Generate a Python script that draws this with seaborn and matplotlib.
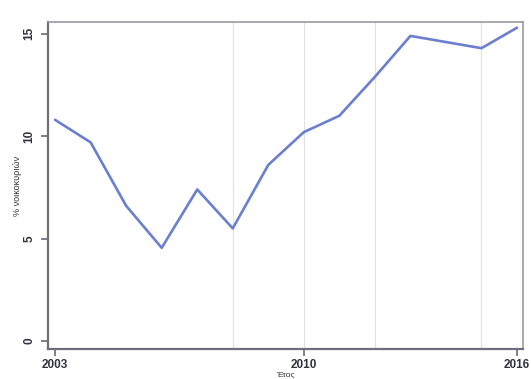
import matplotlib
matplotlib.use("Agg")
import matplotlib.pyplot as plt
import seaborn as sns
import pandas as pd

# Share of households per year (%)
years = [2003, 2004, 2005, 2006, 2007, 2008, 2009, 2010, 2011, 2012, 2013, 2014, 2015, 2016]
share = [10.8, 9.7, 6.6, 4.55, 7.4, 5.5, 8.6, 10.2, 11.0, 12.9, 14.9, 14.6, 14.3, 15.3]
x_ticks = [2003, 2010, 2016]
y_ticks = [0, 5, 10, 15]
grid_years = [2008, 2010, 2012, 2015]

df = pd.DataFrame({"year": years, "share": share})

sns.set_style("white", {"xtick.bottom": True, "ytick.left": True})
plt.rcParams["font.family"] = ["Liberation Sans", "DejaVu Sans"]

fig = plt.figure(figsize=(5.31, 3.79), dpi=100)
ax = fig.add_axes([0.0904, 0.0792, 0.8946, 0.8628])

for gy in grid_years:
    ax.axvline(gy, color="#e3e3e6", lw=0.9, zorder=0)

sns.lineplot(data=df, x="year", y="share", ax=ax, color="#6b7fcf", lw=1.9)

ax.set_xlim(2002.8, 2016.17)
ax.set_ylim(-0.39, 15.58)
ax.set_xticks(x_ticks)
ax.set_yticks(y_ticks)
ax.set_xticklabels([str(t) for t in x_ticks], fontsize=8.5, fontweight="bold", color="#333340")
ax.set_yticklabels([str(t) for t in y_ticks], fontsize=8.5, fontweight="bold",
                   color="#333340", rotation=90, va="center")
ax.tick_params(axis="both", which="major", direction="out", length=5, width=1.2,
               color="#6b6b78", bottom=True, left=True)
ax.tick_params(axis="x", pad=2)
ax.tick_params(axis="y", pad=4)

for side in ["left", "bottom", "top", "right"]:
    ax.spines[side].set_visible(True)
    ax.spines[side].set_color("#6e6e7c")
    ax.spines[side].set_linewidth(1.6)
for side in ["top", "right"]:
    ax.spines[side].set_color("#9a9aa6")
    ax.spines[side].set_linewidth(1.2)

ax.set_ylabel("% νοικοκυριών", fontsize=6.5, color="#333333", labelpad=1)
ax.set_xlabel("Έτος", fontsize=6, color="#333333", labelpad=1)

fig.savefig("out.png", dpi=100, facecolor="white")
